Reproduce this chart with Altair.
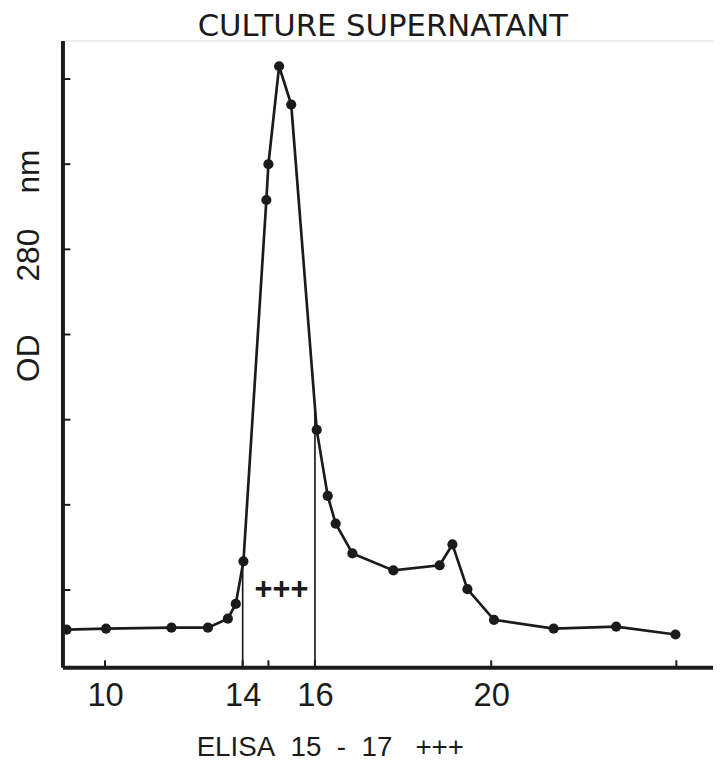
import altair as alt
import pandas as pd

# ---- data ----
fraction = [8.88, 10.03, 11.93, 12.99, 13.57, 13.80, 14.03, 14.92, 15.00, 15.23, 15.49,
            16.04, 16.29, 16.47, 16.85, 17.78, 18.83, 19.12, 19.46, 20.06, 21.35, 22.70, 23.98]
od280 = [0.0535, 0.0547, 0.0558, 0.0558, 0.0663, 0.0837, 0.1337, 0.558, 0.600, 0.715, 0.670,
         0.288, 0.2105, 0.178, 0.143, 0.123, 0.129, 0.1535, 0.101, 0.065, 0.0547, 0.057, 0.0477]

x_label_values = [10, 14, 16, 20]
x_tick_values = [10, 14, 15, 16, 20, 24]
y_tick_values = [0.1, 0.2, 0.3, 0.4, 0.5, 0.6, 0.7]

# hand-drawn, non-uniform fraction axis (breakpoints read from tick positions)
x_domain = [8.76, 10, 14, 15, 16, 20, 24, 24.81]
x_range = [0, 43, 182, 208, 255, 433, 620, 657]
y_domain = [0.0093, 0.7453]

pool_x = [14, 16]
pool_top = [0.1337, 0.31]
annot_x = [15.28]
annot_y = [0.1]
annot_text = ["+++"]

NB = "\u00a0"
y_title = "OD" + NB * 6 + "280" + NB * 4 + "nm"
x_title = "ELISA" + NB * 2 + "15" + NB * 2 + "-" + NB * 2 + "17" + NB * 3 + "+++"
chart_title = "CULTURE SUPERNATANT"

W, H = 657, 633
INK = "#1b1b1b"

df = pd.DataFrame({"fraction": fraction, "od": od280})
pool = pd.DataFrame({"x": pool_x, "top": pool_top, "bottom": [y_domain[0]] * len(pool_x)})
annot = pd.DataFrame({"x": annot_x, "y": annot_y, "t": annot_text})
xt = pd.DataFrame({"x": x_tick_values})
yt = pd.DataFrame({"y": y_tick_values})

xscale = alt.Scale(domain=x_domain, range=x_range, nice=False, zero=False)
yscale = alt.Scale(domain=y_domain, nice=False, zero=False)

xaxis = alt.Axis(
    values=x_label_values, ticks=False, tickSize=0, grid=False,
    domainColor=INK, domainWidth=4,
    labelFont="Liberation Sans", labelFontSize=33, labelColor=INK, labelPadding=13,
    labelFlush=False, labelOverlap=False,
    title=x_title, titleFont="Liberation Sans", titleFontSize=28,
    titleFontWeight="normal", titleColor=INK, titleX=270, titleY=89,
    titleAlign="center", titleBaseline="alphabetic",
)
yaxis = alt.Axis(
    values=y_tick_values, ticks=False, tickSize=0, labels=False, grid=False,
    domainColor=INK, domainWidth=4,
    title=y_title, titleFont="Liberation Sans", titleFontSize=32,
    titleFontWeight="normal", titleColor=INK, titleX=-34, titleY=227,
    titleAlign="center", titleBaseline="middle", titleAngle=270,
)

line = alt.Chart(df).mark_line(color=INK, strokeWidth=2.7).encode(
    x=alt.X("fraction:Q", scale=xscale, axis=xaxis),
    y=alt.Y("od:Q", scale=yscale, axis=yaxis),
)
pts = alt.Chart(df).mark_circle(color=INK, size=105, opacity=1).encode(
    x=alt.X("fraction:Q", scale=xscale),
    y=alt.Y("od:Q", scale=yscale),
)
rules = alt.Chart(pool).mark_rule(color=INK, strokeWidth=1.7).encode(
    x=alt.X("x:Q", scale=xscale),
    y=alt.Y("top:Q", scale=yscale),
    y2="bottom:Q",
)
text = alt.Chart(annot).mark_text(
    font="Liberation Sans", fontSize=31, fontWeight="bold", color=INK,
    align="center", baseline="middle"
).encode(
    x=alt.X("x:Q", scale=xscale),
    y=alt.Y("y:Q", scale=yscale),
    text="t:N",
)
xticks = alt.Chart(xt).mark_rule(color=INK, strokeWidth=2).encode(
    x=alt.X("x:Q", scale=xscale),
    y=alt.value(H),
    y2=alt.value(H - 7),
)
yticks = alt.Chart(yt).mark_rule(color=INK, strokeWidth=2).encode(
    y=alt.Y("y:Q", scale=yscale),
    x=alt.value(0),
    x2=alt.value(8),
)

chart = alt.layer(line, rules, pts, text, xticks, yticks).properties(
    width=W, height=H,
    title=alt.TitleParams(
        chart_title, font="DejaVu Sans", fontSize=31, fontWeight="normal",
        color=INK, anchor="middle", offset=1, baseline="alphabetic", dx=-5, dy=27,
    ),
    autosize=alt.AutoSizeParams(type="none"),
    padding={"left": 55, "top": 29, "right": 0, "bottom": 100},
).configure_view(stroke=None).configure(background="white")

chart.save("out.html", embed_options={"renderer": "svg", "actions": False})
